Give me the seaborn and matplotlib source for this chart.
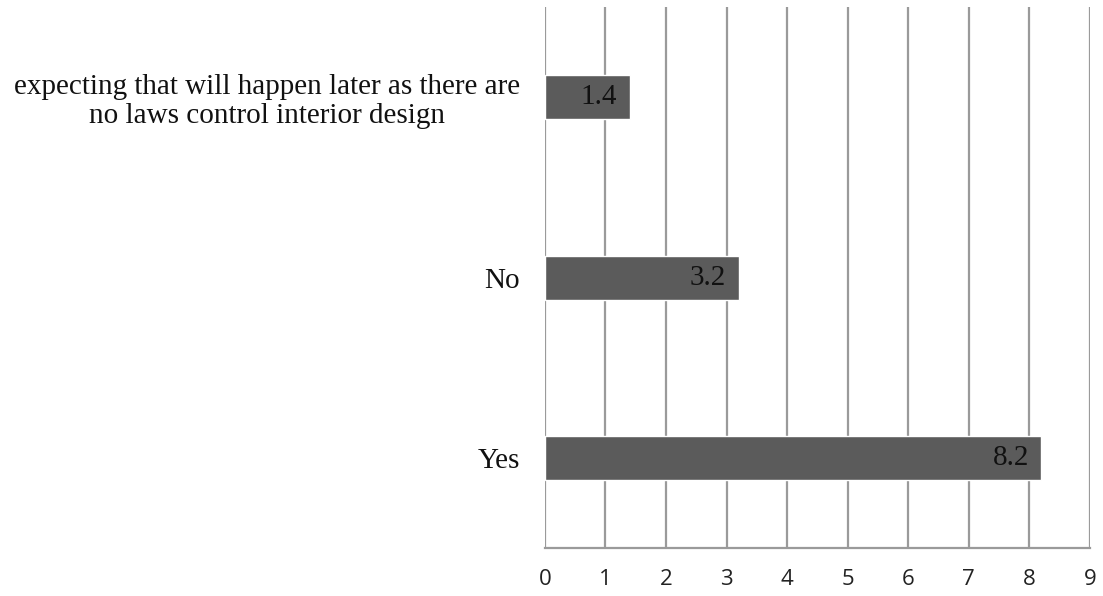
import matplotlib
matplotlib.use("Agg")
import matplotlib.pyplot as plt
import seaborn as sns
import pandas as pd

categories = ["expecting that will happen later as there are\nno laws control interior design", "No", "Yes"]
values = [1.4, 3.2, 8.2]
x_ticks = [0, 1, 2, 3, 4, 5, 6, 7, 8, 9]

df = pd.DataFrame({"answer": categories, "value": values})

sns.set_style("white")

fig = plt.figure(figsize=(11.03, 5.96), dpi=100)
ax = fig.add_axes([0.494, 0.0805, 0.494, 0.9075])

sns.barplot(data=df, y="answer", x="value", orient="h", color="#5b5b5b",
            saturation=1, width=0.245, ax=ax)

for i, v in enumerate(values):
    ax.annotate(f"{v}", xy=(v, i), xytext=(-9, 0), textcoords="offset points",
                ha="right", va="center", fontsize=21, family="Liberation Serif",
                color="#111111")

ax.set_xlim(0, 9)
ax.set_ylim(2.5, -0.5)
ax.set_xticks(x_ticks)
ax.xaxis.grid(True, color="#9a9a9a", linewidth=1.6)
ax.set_axisbelow(True)
ax.set_xlabel("")
ax.set_ylabel("")

for side in ["top", "right", "left"]:
    ax.spines[side].set_visible(False)
ax.spines["bottom"].set_color("#9a9a9a")
ax.spines["bottom"].set_linewidth(1.6)

ax.tick_params(axis="x", length=0, pad=15, labelsize=16, colors="#222222")
ax.tick_params(axis="y", length=0, pad=18)
for lab in ax.get_xticklabels():
    lab.set_family("Open Sans")
for lab in ax.get_yticklabels():
    lab.set_family("Liberation Serif")
    lab.set_fontsize(21)
    lab.set_multialignment("center")
    lab.set_linespacing(1.15)
    lab.set_color("#111111")

fig.savefig("out.png", dpi=100)
